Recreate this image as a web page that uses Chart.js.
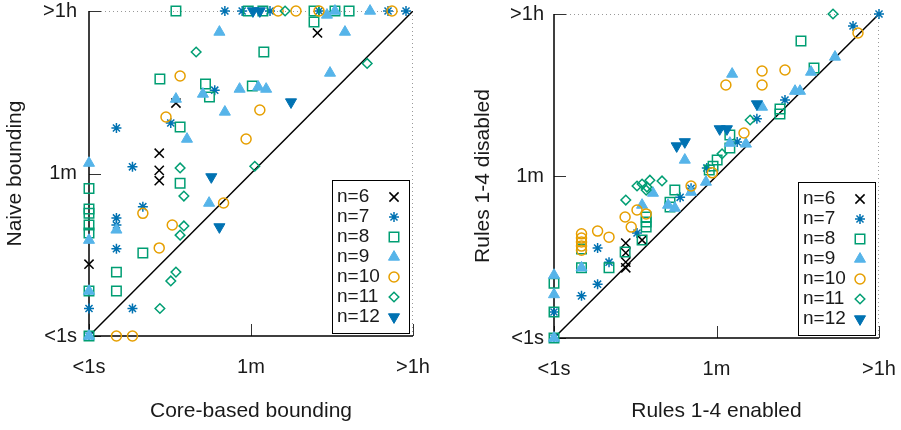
<!DOCTYPE html>
<html>
<head>
<meta charset="utf-8">
<script src="https://cdn.jsdelivr.net/npm/chart.js@4.4.1/dist/chart.umd.min.js"></script>
<style>
  html, body { margin: 0; padding: 0; background: #fff; }
  #wrap { position: relative; width: 901px; height: 430px; }
  canvas { position: absolute; top: 0; }
  #chartLeft { left: 0; }
  #chartRight { left: 450px; }
</style>
</head>
<body>
<div id="wrap">
  <canvas id="chartLeft" width="450" height="430"></canvas>
  <canvas id="chartRight" width="451" height="430"></canvas>
</div>
<script>
// axis ticks (seconds), shared by both plots
const tickValues = [1, 60, 3600];
const tickLabels = ['<1s', '1m', '>1h'];

const seriesLabels = ['n=6', 'n=7', 'n=8', 'n=9', 'n=10', 'n=11', 'n=12'];

// left plot: x = core-based bounding, y = naive bounding (seconds)
const leftN6 = [[322, 2070], [9, 354], [5.9, 100], [5.9, 65], [5.9, 50], [1, 6.1]];
const leftN7 = [[31, 3600], [48, 3600], [97, 3600], [335, 3600], [1915, 3600], [3017, 3600], [24, 490], [7.9, 214], [2, 189], [3, 71], [3.9, 26], [2, 19.6], [2, 16.4], [2, 9], [1, 2], [3, 2], [1, 1]];
const leftN8 = [[9, 3600], [56, 3600], [81, 3600], [295, 3600], [501, 3600], [716, 3600], [295, 2730], [83, 1281], [6, 649], [19, 572], [21, 412], [62, 544], [10, 194], [10, 47], [1, 41], [1, 24.5], [1, 22], [1, 16.4], [1, 13.4], [3.9, 8.1], [2, 5], [1, 3.1], [2, 3.1], [1, 1]];
const leftN9 = [[1216, 3600], [501, 3600], [409, 3260], [27, 2120], [645, 2120], [442, 755], [17.8, 445], [45, 504], [72, 531], [88, 504], [9, 392], [31, 283], [11.9, 143], [1, 78], [20.8, 28.5], [2, 14.5], [1, 11.2], [1, 3.1], [1, 1]];
const leftN10 = [[119, 3600], [187, 3600], [335, 3600], [2117, 3600], [10, 700], [75, 297], [7, 249], [53, 143], [30, 28.5], [3.9, 22], [8.2, 16.4], [5.9, 9.2], [2, 1], [3, 1]];
const leftN11 = [[142, 3600], [15, 1281], [1130, 960], [66, 72], [10, 69], [11, 34], [11, 16], [10, 12.7], [9, 5], [7.9, 4], [6, 2]];
const leftN12 = [[63, 3600], [75, 3600], [165, 363], [22, 55], [27, 15.6]];

// right plot: x = rules 1-4 enabled, y = rules 1-4 disabled (seconds)
const rightN6 = [[6.1, 11], [6.1, 8.6], [6.1, 6.8], [6.1, 5.9], [9.2, 11.9]];
const rightN7 = [[3600, 3600], [1871, 2660], [337, 409], [166, 255], [101, 142], [47, 73.5], [31.6, 44], [24, 35], [8.1, 14.2], [4, 6.8], [3, 9.7], [3, 3.9], [2, 2.9], [1, 1.93], [1, 1]];
const rightN8 = [[504, 1820], [700, 920], [297, 326], [297, 287], [84, 169], [84, 122], [61, 90], [55, 77], [50, 70], [21, 42], [18.6, 31], [18.6, 27.4], [10.2, 21.3], [10.2, 18.8], [10.2, 16.5], [9.2, 11.9], [6, 8.8], [4, 5.9], [2, 5.9], [2, 9.5], [1, 4], [1, 1.93], [1, 1]];
const rightN9 = [[1188, 1216], [649, 831], [89, 790], [434, 513], [492, 513], [189, 343], [84, 138], [126, 135], [27, 90], [46, 51.6], [12.1, 39], [31.6, 40], [17.7, 28.8], [21, 26.7], [9.2, 28.8], [2, 5.9], [1, 4.9], [1, 3], [1, 1]];
const rightN10 = [[2120, 2226], [189, 852], [337, 874], [76, 598], [189, 598], [120, 178], [54, 65], [31.6, 46.6], [8.1, 25.4], [10.2, 23], [6, 21.3], [7, 16.5], [3, 14.9], [4, 12.8], [2, 13.9], [2, 12.5], [2, 11.3], [2, 10.2], [2, 9.2]];
const rightN11 = [[1130, 3600], [140, 247], [69, 105], [8.1, 46.6], [9.2, 49], [10.4, 45.4], [11.2, 54], [15.2, 53], [10.2, 42], [6.1, 32.7]];
const rightN12 = [[65, 197], [78, 197], [166, 370], [22, 128], [27, 142]];

// marker look per series
const colors = ['#000000', '#0072b2', '#009e73', '#56b4e9', '#e69f00', '#009e73', '#0072b2'];
const styles = ['crossRot', 'star', 'rect', 'triangle', 'circle', 'rectRot', 'triangle'];
const radii = [6.5, 5, 6.7, 6.4, 5, 4.8, 6.4];
const rotations = [0, 0, 0, 0, 0, 0, 180];
const filled = [false, false, false, true, false, false, true];

const FONT = 'Liberation Sans';
const TEXT = '#1a1a1a';

function makeDatasets(series) {
    const sets = series.map((pts, i) => ({
        label: seriesLabels[i],
        data: pts.map(p => ({ x: p[0], y: p[1] })),
        pointStyle: styles[i],
        pointRadius: radii[i],
        pointRotation: rotations[i],
        pointBorderWidth: filled[i] ? 1 : 1.5,
        borderColor: colors[i],
        backgroundColor: filled[i] ? colors[i] : 'rgba(0,0,0,0)',
        showLine: false,
        clip: false,
        order: series.length - i,
    }));
    // y = x reference line
    sets.push({
        type: 'line',
        data: [{ x: 1, y: 1 }, { x: 3600, y: 3600 }],
        borderColor: '#000',
        borderWidth: 1.5,
        pointRadius: 0,
        showLine: true,
        order: 100,
    });
    return sets;
}

// frame, inner ticks and boxed legend like the original plot
const framePlugin = {
    id: 'frame',
    beforeDatasetsDraw(chart) {
        const { ctx, chartArea: a, scales: { x, y } } = chart;
        ctx.save();
        ctx.strokeStyle = '#999';
        ctx.lineWidth = 1;
        ctx.setLineDash([1, 3]);
        ctx.beginPath();
        ctx.moveTo(a.left, a.top + 0.5);
        ctx.lineTo(a.right, a.top + 0.5);
        ctx.moveTo(a.right - 0.5, a.top);
        ctx.lineTo(a.right - 0.5, a.bottom);
        ctx.stroke();
        ctx.setLineDash([]);
        ctx.strokeStyle = '#333';
        ctx.beginPath();
        tickValues.forEach(v => {
            const px = Math.round(x.getPixelForValue(v)) + 0.5;
            const py = Math.round(y.getPixelForValue(v)) + 0.5;
            ctx.moveTo(px, a.bottom);
            ctx.lineTo(px, a.bottom - 12);
            ctx.moveTo(a.left, py);
            ctx.lineTo(a.left + 12, py);
        });
        ctx.stroke();
        ctx.strokeStyle = '#000';
        ctx.lineWidth = 1.5;
        ctx.beginPath();
        ctx.moveTo(a.left, a.top);
        ctx.lineTo(a.left, a.bottom);
        ctx.lineTo(a.right, a.bottom);
        ctx.stroke();
        ctx.restore();
    },
    afterDraw(chart) {
        const { ctx, chartArea: a } = chart;
        const w = 77, h = 153;
        const bx = Math.round(a.right - 4 - w), by = Math.round(a.bottom - 3 - h);
        ctx.save();
        ctx.fillStyle = '#fff';
        ctx.fillRect(bx, by, w, h);
        ctx.strokeStyle = '#000';
        ctx.lineWidth = 1;
        ctx.strokeRect(bx + 0.5, by + 0.5, w, h);
        ctx.font = '19px "' + FONT + '"';
        ctx.textBaseline = 'middle';
        seriesLabels.forEach((lab, i) => {
            const ry = by + 17 + i * 20;
            ctx.fillStyle = TEXT;
            ctx.fillText(lab, bx + 5, ry);
            ctx.strokeStyle = colors[i];
            ctx.fillStyle = filled[i] ? colors[i] : 'rgba(0,0,0,0)';
            ctx.lineWidth = filled[i] ? 1 : 1.5;
            Chart.helpers.drawPoint(ctx, {
                pointStyle: styles[i], radius: radii[i], rotation: rotations[i], borderWidth: ctx.lineWidth
            }, bx + 62, ry);
        });
        ctx.restore();
    }
};

function makeAxis(isX, titleText, size, tickPad, titlePad) {
    return {
        type: 'logarithmic',
        min: 1,
        max: 3600,
        afterBuildTicks: s => { s.ticks = tickValues.map(v => ({ value: v })); },
        afterFit: s => {
            if (isX) s.height = size; else s.width = size;
            s.paddingTop = s.paddingBottom = s.paddingLeft = s.paddingRight = 0;
        },
        grid: { display: false, drawTicks: false },
        border: { display: false },
        ticks: {
            padding: tickPad,
            maxRotation: 0,
            autoSkip: false,
            color: TEXT,
            font: { family: FONT, size: 20 },
            callback: (v, i) => tickLabels[i],
        },
        title: {
            display: true,
            text: titleText,
            color: TEXT,
            font: { family: FONT, size: 21 },
            padding: titlePad,
        },
    };
}

function makeChart(id, series, xTitle, yTitle, geo) {
    return new Chart(document.getElementById(id), {
        type: 'scatter',
        data: { datasets: makeDatasets(series) },
        plugins: [framePlugin],
        options: {
            responsive: false,
            animation: false,
            layout: { padding: { top: geo.top, right: geo.right, left: 0, bottom: 0 } },
            plugins: { legend: { display: false }, tooltip: { enabled: false } },
            scales: {
                x: makeAxis(true, xTitle, geo.xh, 19, { top: 0, bottom: 6 }),
                y: makeAxis(false, yTitle, geo.yw, geo.ypad, { top: geo.ytitle, bottom: 0 }),
            },
        },
    });
}

makeChart('chartLeft', [leftN6, leftN7, leftN8, leftN9, leftN10, leftN11, leftN12],
    'Core-based bounding', 'Naive bounding',
    { top: 11, right: 37, xh: 94, yw: 89, ypad: 12, ytitle: 3 });

makeChart('chartRight', [rightN6, rightN7, rightN8, rightN9, rightN10, rightN11, rightN12],
    'Rules 1-4 enabled', 'Rules 1-4 disabled',
    { top: 14, right: 22, xh: 92, yw: 104, ypad: 10, ytitle: 21 });
</script>
</body>
</html>
